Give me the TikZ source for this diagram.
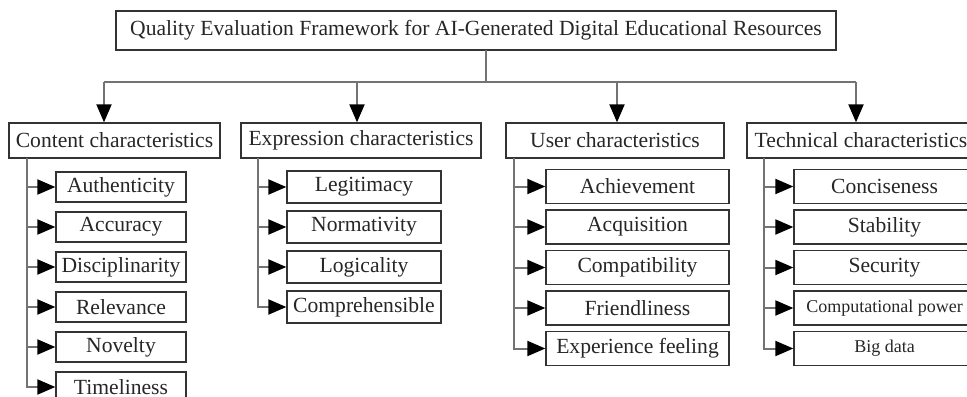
\documentclass[tikz,border=0pt]{standalone}
\usepackage{fontspec}
\setmainfont{Liberation Serif}
\usetikzlibrary{arrows.meta}

\tikzset{
  box/.style={draw=black!80, line width=0.65pt, inner sep=0pt, text=black!85,
    font=\fontsize{10.8}{12}\selectfont},
  link/.style={draw=black!55, line width=1pt},
  tip/.style={link, -{Triangle[length=9pt,width=7.5pt,color=black]}}
}

\begin{document}
\begin{tikzpicture}[x=0.5pt,y=-0.5pt]
  \useasboundingbox (0,0) rectangle (967,396);
  \clip (0,0) rectangle (967,396);

  \node[box, minimum width=360pt, minimum height=19.5pt] (title) at (476,30.5)
    {Quality Evaluation Framework for AI-Generated Digital Educational Resources};

  % the four groups
  \node[box, minimum width=105.5pt, minimum height=17.5pt] (content) at (114.5,140.5) {Content characteristics};
  \node[box, minimum width=120pt, minimum height=17.5pt] (express) at (361,140.5) {Expression characteristics};
  \node[box, minimum width=109pt, minimum height=17.5pt] (user) at (615,140.5) {User characteristics};
  \node[box, minimum width=114pt, minimum height=17.5pt] (tech) at (861,140.5) {Technical characteristics};

  \coordinate (top) at (486,50);
  \coordinate (bus) at (486,82);
  \coordinate (b1) at (104,82);
  \coordinate (b4) at (856,82);
  \draw[link] (top) -- (bus);
  \draw[link] (b1) -- (b4);
  \foreach \x/\g in {104/content, 357/express, 617/user, 856/tech} {
    \coordinate (d) at (\x,82);
    \draw[tip] (d) -- (d |- \g.north);
  }

  % content
  \coordinate (s1) at (27,158);
  \foreach \name/\i in {Authenticity/1, Accuracy/2, Disciplinarity/3, Relevance/4, Novelty/5, Timeliness/6} {
    \node[box, minimum width=65pt, minimum height=15pt] (c\i) at (121,{147+40*\i}) {\name};
    \draw[tip] (s1) |- (c\i.west);
  }

  % expression
  \coordinate (s2) at (258,158);
  \foreach \name/\i in {Legitimacy/1, Normativity/2, Logicality/3, Comprehensible/4} {
    \node[box, minimum width=77pt, minimum height=16pt] (e\i) at (364,{147+40*\i}) {\name};
    \draw[tip] (s2) |- (e\i.west);
  }

  % user
  \coordinate (s3) at (514,158);
  \foreach \name/\i in {Achievement/1, Acquisition/2, Compatibility/3, Friendliness/4, Experience feeling/5} {
    \node[box, minimum width=91.5pt, minimum height=17pt] (u\i) at (637.5,{146+40.5*\i}) {\name};
    \draw[tip] (s3) |- (u\i.west);
  }

  % technical
  \coordinate (s4) at (764,158);
  \foreach \name/\i/\fs in {Conciseness/1/10.8, Stability/2/10.8, Security/3/10.8, Computational power/4/9, Big data/5/9} {
    \node[box, minimum width=90.5pt, minimum height=17pt, font=\fontsize{\fs}{12}\selectfont] (t\i) at (884.5,{146+40.5*\i}) {\name};
    \draw[tip] (s4) |- (t\i.west);
  }
\end{tikzpicture}
\end{document}
